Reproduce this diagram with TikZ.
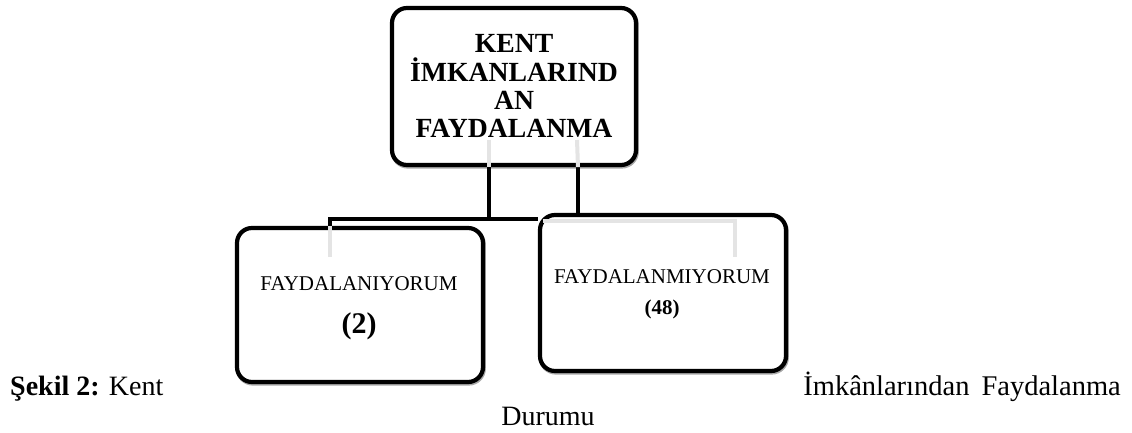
\documentclass[tikz,border=0pt]{standalone}
\usepackage{fontspec}
\setmainfont{Liberation Serif}
\definecolor{ghost}{HTML}{E4E4E4}
\definecolor{shade}{HTML}{A8A8A8}
\tikzset{
  x=1pt, y=-1pt,
  box/.style={draw=black, line width=4.2pt, rounded corners=15pt, fill=white, inner sep=0pt,
    preaction={draw=shade, line width=4.2pt, transform canvas={yshift=-1.5pt, xshift=0.8pt}}},
  conn/.style={draw=black, line width=4.2pt},
  ghostline/.style={draw=ghost, line width=4pt},
  txt/.style={inner sep=0pt, anchor=base},
}
\begin{document}
\begin{tikzpicture}
\useasboundingbox (0,0) rectangle (1132,433);
% boxes
\node[box, minimum width=244pt, minimum height=157pt] (top) at (514,86.5) {};
\node[box, minimum width=246pt, minimum height=154pt] (left) at (360,305) {};
\node[box, minimum width=246pt, minimum height=156pt] (right) at (663,293) {};
% junction coordinates
\coordinate (jl) at (489,219);
\coordinate (jr) at (578,219);
\coordinate (je) at (330,219);
% connectors
\draw[conn] (top.south -| jl) -- (jl);
\draw[conn] (top.south -| jr) -- (right.north -| jr);
\draw[conn] (left.north -| je) -- (je) -- (right.west |- je);
% faint guide lines inside boxes
\draw[ghostline] (489,140) -- (top.south -| jl);
\draw[ghostline] (577,140) -- (top.south -| jr);
\draw[ghostline] (left.north -| je) -- (330,257);
\draw[ghostline] (543,221) -- (735,221) -- (735,257);
% texts
\node[txt] (t1) at (514,53) {\fontsize{27.7pt}{28.5pt}\selectfont\bfseries KENT};
\node[txt] (t2) at (514,82) {\fontsize{27.7pt}{28.5pt}\selectfont\bfseries İMKANLARIND};
\node[txt] (t3) at (514,110) {\fontsize{27.7pt}{28.5pt}\selectfont\bfseries AN};
\node[txt] (t4) at (514,138) {\fontsize{27.7pt}{28.5pt}\selectfont\bfseries FAYDALANMA};
\node[txt] (l1) at (359,290) {\fontsize{21pt}{24pt}\selectfont FAYDALANIYORUM};
\node[txt] (l2) at (359,333) {\fontsize{30pt}{32pt}\selectfont\bfseries (2)};
\node[txt] (r1) at (662,283) {\fontsize{21pt}{24pt}\selectfont FAYDALANMIYORUM};
\node[txt] (r2) at (662,314) {\fontsize{21pt}{24pt}\selectfont\bfseries (48)};
% caption
\node[txt, anchor=base west] (c1) at (10,395) {\fontsize{28pt}{32pt}\selectfont\textbf{Şekil 2:} Kent};
\node[txt, anchor=base east] (c2) at (1121,395) {\fontsize{28.5pt}{32pt}\selectfont İmkânlarından\hspace{12pt}Faydalanma};
\node[txt] (c3) at (548,425) {\fontsize{28pt}{32pt}\selectfont Durumu};
\end{tikzpicture}
\end{document}
